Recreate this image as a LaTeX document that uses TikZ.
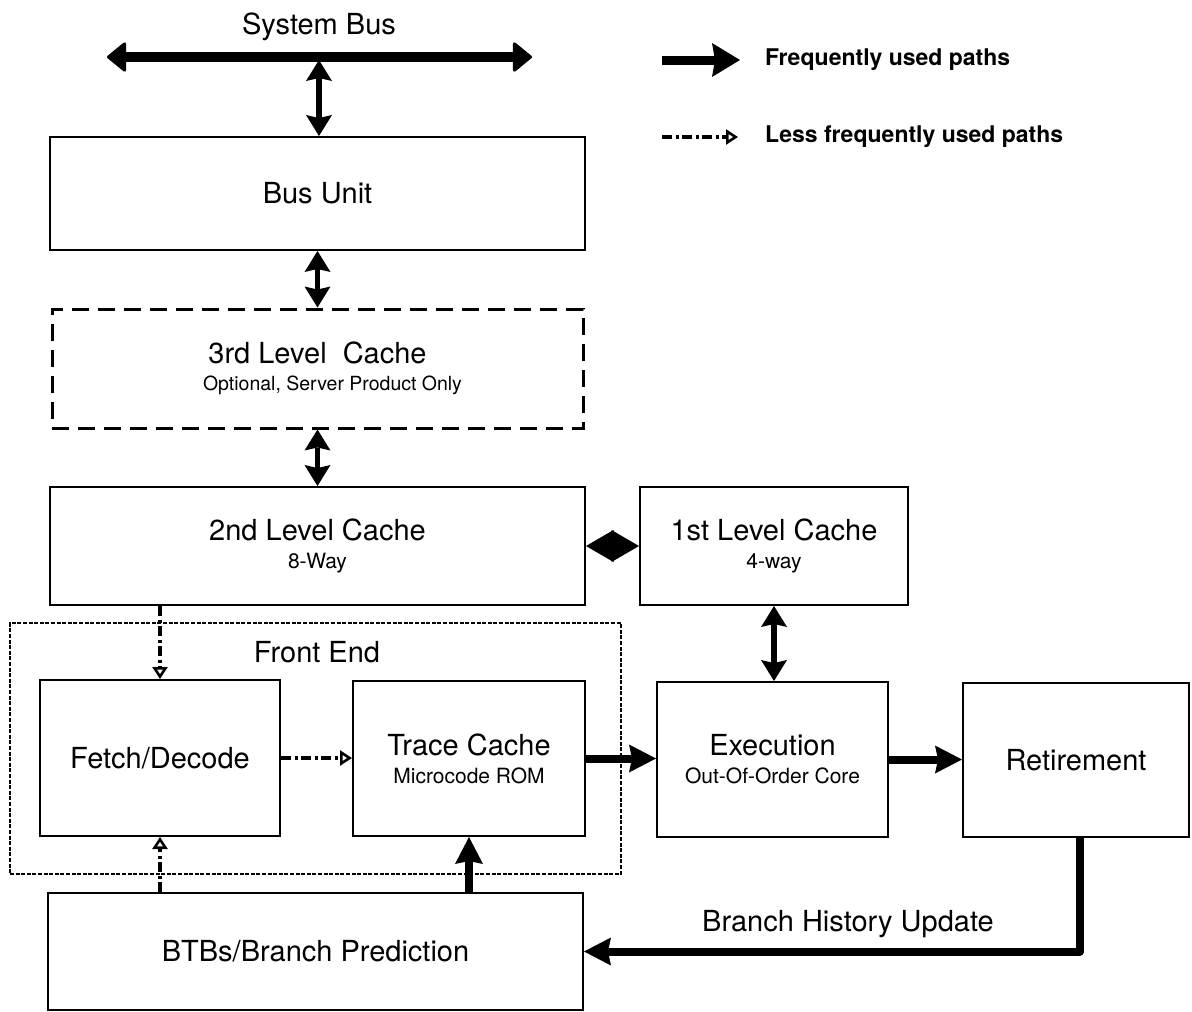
\documentclass[tikz,border=0pt]{standalone}
\usepackage{fontspec}
\setmainfont{TeX Gyre Heros}
\usetikzlibrary{arrows.meta}

\newcommand{\mainsize}{\fontsize{29}{30}\selectfont}
\newcommand{\subsize}{\fontsize{21}{22}\selectfont}

\tikzset{
  box/.style={draw, line width=2pt, rectangle, inner sep=0pt, align=center, font=\mainsize},
  optbox/.style={box, dash pattern=on 17pt off 9pt, line width=3pt},
  groupbox/.style={draw, line width=2.2pt, dash pattern=on 4pt off 1.6pt, rectangle, inner sep=0pt},
  label/.style={font=\mainsize, inner sep=0pt},
  legendtext/.style={font=\fontsize{23}{24}\selectfont\bfseries, anchor=west, inner sep=0pt},
  busbar/.style={line width=10pt,
    {Triangle[length=20pt,width=32pt,line width=3pt,round]}-{Triangle[length=20pt,width=32pt,line width=3pt,round]}},
  linkboth/.style={line width=5.5pt,
    {Stealth[length=21pt,width=26pt,inset=3pt,line width=0pt]}-{Stealth[length=21pt,width=26pt,inset=3pt,line width=0pt]}},
  mainpath/.style={line width=8pt, -{Stealth[length=27pt,width=28pt,inset=3pt,line width=0pt]}},
  minorpath/.style={line width=3.2pt, dash pattern=on 10pt off 3.5pt on 3pt off 3.5pt,
    -{Triangle[open,fill=white,length=12pt,width=15pt,line width=2.6pt]}},
}

\begin{document}
\begin{tikzpicture}[x=1pt,y=-1pt]
\useasboundingbox (0,0) rectangle (1192,1012);

% blocks
\node[box, minimum width=535pt, minimum height=113pt] (bus) at (317.5,193.5) {Bus Unit};
\node[optbox, minimum width=531pt, minimum height=119pt] (l3) at (317.5,368.5)
  {3rd Level\ \ Cache\\[-3pt]{\fontsize{19.5}{21}\selectfont\hspace*{30pt}Optional, Server Product Only}};
\node[box, minimum width=535pt, minimum height=118pt] (l2) at (317.5,546)
  {2nd Level Cache\\[-2pt]{\subsize 8-Way}};
\node[box, minimum width=268pt, minimum height=118pt] (l1) at (774,546)
  {1st Level Cache\\[-2pt]{\subsize 4-way}};
\node[groupbox, minimum width=611pt, minimum height=251pt] (front) at (315.5,748.5) {};
\node[label] (frontlbl) at (317,652) {Front End};
\node[box, minimum width=240pt, minimum height=156pt] (fetch) at (160,758) {Fetch/Decode};
\node[box, minimum width=232pt, minimum height=155pt] (trace) at (469,758.5)
  {Trace Cache\\[-2pt]{\subsize Microcode ROM}};
\node[box, minimum width=231pt, minimum height=155pt] (exec) at (772.5,759.5)
  {Execution\\[-2pt]{\subsize Out-Of-Order Core}};
\node[box, minimum width=226pt, minimum height=154pt] (retire) at (1076,760) {Retirement};
\node[box, minimum width=535pt, minimum height=117pt] (btb) at (315.5,951.5) {BTBs/Branch Prediction};

% system bus
\node[label] (sysbus) at (319,27) {System Bus};
\coordinate (busL) at (107,57);
\coordinate (busR) at (532,57);
\coordinate (busT) at (319,60);
\draw[busbar] (busL) -- (busR);
\draw[linkboth] (busT) -- (busT |- bus.north);

% cache hierarchy
\draw[linkboth] (bus.south) -- (l3.north);
\draw[linkboth] (l3.south) -- (l2.north);
\draw[line width=1pt, {Triangle[length=27.5pt,width=32pt,line width=0pt]}-{Triangle[length=27.5pt,width=32pt,line width=0pt]}]
  (l2.east) -- (l1.west);
\draw[linkboth] (l1.south) -- (l1.south |- exec.north);

% pipeline
\draw[minorpath] (fetch.north |- l2.south) -- (fetch.north);
\draw[minorpath] (fetch.east) -- (trace.west |- fetch.east);
\draw[minorpath] (fetch.south |- btb.north) -- (fetch.south);
\draw[mainpath] (trace.south |- btb.north) -- (trace.south);
\draw[mainpath] (trace.east) -- (trace.east -| exec.west);
\draw[mainpath] (exec.east) -- (exec.east -| retire.west);
\draw[mainpath, line join=round] ([xshift=4pt]retire.south) |- (btb.east);
\node[label] (bhu) at (848,924) {Branch History Update};

% legend
\coordinate (lgA1) at (662,60);
\coordinate (lgA2) at (740,60);
\coordinate (lgB1) at (662,137);
\coordinate (lgB2) at (738,137);
\draw[line width=9pt, -{Stealth[length=28pt,width=34pt,inset=3pt,line width=0pt]}] (lgA1) -- (lgA2);
\draw[minorpath] (lgB1) -- (lgB2);
\node[legendtext] (lgAt) at (765,60) {Frequently used paths};
\node[legendtext] (lgBt) at (765,137) {Less frequently used paths};
\end{tikzpicture}
\end{document}
